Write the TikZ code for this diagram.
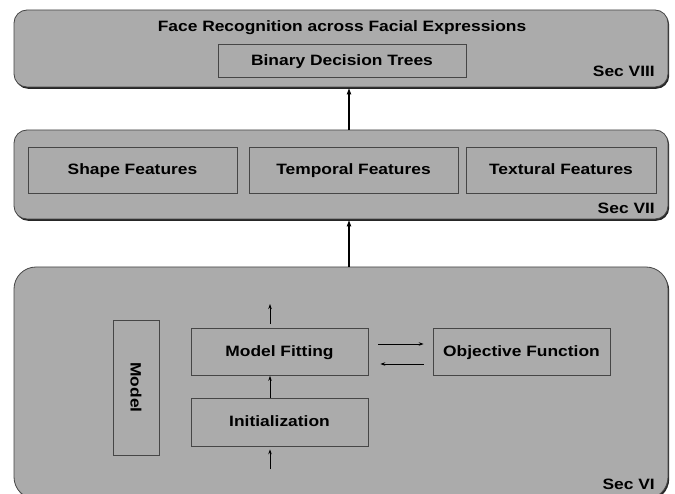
\documentclass[tikz,border=0pt]{standalone}
\usepackage{fontspec}
\setmainfont[FakeStretch=1.16]{Liberation Sans}
\usetikzlibrary{arrows.meta,shadows}
\definecolor{panelgray}{RGB}{171,171,171}
\definecolor{edgegray}{RGB}{70,70,70}
\newcommand{\drawpanel}{\node[panel]}
\newcommand{\drawbox}{\node[box]}
\newcommand{\drawsec}{\node[anchor=east,inner sep=0]}

\begin{document}
\begin{tikzpicture}[x=1pt,y=-1pt,
  every node/.style={font=\fontsize{15}{18}\selectfont\bfseries,text height=11pt,text depth=1.5pt},
  panel/.style={draw=edgegray,fill=panelgray,rounded corners=13pt,line width=0.8pt,
    drop shadow={shadow xshift=1.2pt,shadow yshift=-1.8pt,fill=black!85,opacity=1}},
  box/.style={draw=edgegray,fill=panelgray,line width=0.7pt,inner sep=0},
  big/.style={-{Latex[length=7pt,width=5pt]},line width=1.8pt},
  small/.style={-{Stealth[length=5pt,width=3.5pt]},line width=0.7pt}]
\useasboundingbox (0,0) rectangle (675,494);
\fill[white] (0,0) rectangle (675,494);

%classification
\drawpanel[minimum width=654pt,minimum height=77pt] (face) at (341,48.5) {};
\node (title) at (342,27) {Face Recognition across Facial Expressions};
\drawbox[minimum width=248pt,minimum height=33pt] (trees) at (342,60.5) {Binary Decision Trees};
\drawsec (sec8) at (655,72) {Sec VIII};

%features
\drawpanel[minimum width=654pt,minimum height=89pt] (feat) at (341,174.5) {};
\drawbox[minimum width=209pt,minimum height=46pt] (shape) at (132.5,170) {Shape Features};
\drawbox[minimum width=209pt,minimum height=46pt] (temporal) at (353.5,170) {Temporal Features};
\drawbox[minimum width=190pt,minimum height=46pt] (textural) at (561,170) {Textural Features};
\drawsec (sec7) at (655,209) {Sec VII};

%model fitting
\drawpanel[rounded corners=22pt,minimum width=654pt,minimum height=232pt] (fitting) at (341,383) {};
\drawbox[minimum width=46pt,minimum height=135pt,text height=,text depth=] (model) at (136,387.5) {\rotatebox{-90}{Model}};
\drawbox[minimum width=177pt,minimum height=47pt] (fit) at (279.5,352) {Model Fitting};
\drawbox[minimum width=177pt,minimum height=48pt] (init) at (279.5,422) {Initialization};
\drawbox[minimum width=177pt,minimum height=47pt] (obj) at (521.5,352) {Objective Function};
\drawsec (sec6) at (655,485) {Sec VI};

\coordinate (fitOut) at (270,304);
\coordinate (initIn) at (270,469);

\draw[big] ([xshift=8pt]feat.north) -- ([xshift=8pt]face.south);
\draw[big] ([xshift=8pt]fitting.north) -- ([xshift=8pt]feat.south);

\draw[small,shorten <=4pt] ([xshift=-9.5pt]fit.north) -- (fitOut);
\draw[small] ([xshift=-9.5pt]init.north) -- ([xshift=-9.5pt]fit.south);
\draw[small,shorten >=3pt] (initIn) -- ([xshift=-9.5pt]init.south);
\draw[small,shorten <=10pt,shorten >=9pt] ([yshift=8pt]fit.east) -- ([yshift=8pt]obj.west);
\draw[small,shorten <=9pt,shorten >=12pt] ([yshift=-12pt]obj.west) -- ([yshift=-12pt]fit.east);
\end{tikzpicture}
\end{document}
